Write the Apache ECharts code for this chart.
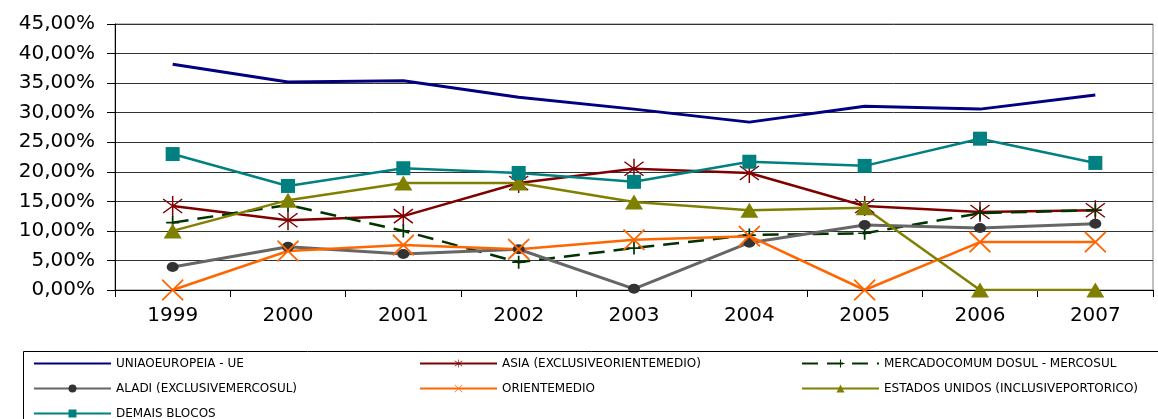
<!DOCTYPE html>
<html>
<head>
<meta charset="utf-8">
<script src="https://cdn.jsdelivr.net/npm/echarts@6/dist/echarts.min.js"></script>
<style>
html, body { margin: 0; padding: 0; background: #fff; }
#chart { width: 1158px; height: 419px; }
</style>
</head>
<body>
<div id="chart"></div>
<script>
// anos
var years = ['1999', '2000', '2001', '2002', '2003', '2004', '2005', '2006', '2007'];
// participação (%) por bloco
var ue = [38.2, 35.2, 35.4, 32.6, 30.6, 28.4, 31.1, 30.6, 33.0];
var asia = [14.2, 11.8, 12.5, 18.1, 20.5, 19.8, 14.2, 13.2, 13.5];
var mercosul = [11.4, 14.4, 10.0, 4.7, 7.1, 9.3, 9.6, 13.0, 13.5];
var aladi = [3.9, 7.3, 6.1, 6.9, 0.2, 8.0, 11.0, 10.5, 11.2];
var oriente = [0, 6.6, 7.6, 6.9, 8.5, 9.1, 0, 8.1, 8.1];
var eua = [10.0, 15.2, 18.1, 18.1, 14.9, 13.5, 13.9, 0, 0];
var demais = [23.0, 17.6, 20.6, 19.8, 18.3, 21.7, 21.0, 25.6, 21.5];

var names = [
	'UNIAOEUROPEIA - UE',
	'ASIA (EXCLUSIVEORIENTEMEDIO)',
	'MERCADOCOMUM DOSUL - MERCOSUL',
	'ALADI (EXCLUSIVEMERCOSUL)',
	'ORIENTEMEDIO',
	'ESTADOS UNIDOS (INCLUSIVEPORTORICO)',
	'DEMAIS BLOCOS'
];

// marcadores
var asterisk = 'path://M9.3 0L10.7 0L10.7 20L9.3 20Z' +
	'M1.43 2.45L19.43 16.45L18.57 17.55L0.57 3.55Z' +
	'M0.57 16.45L18.57 2.45L19.43 3.55L1.43 17.55Z';
var cross = 'path://M1.43 2.45L19.43 16.45L18.57 17.55L0.57 3.55Z' +
	'M0.57 16.45L18.57 2.45L19.43 3.55L1.43 17.55Z';
var plus = 'path://M5.2 0H6.8V5.2H12V6.8H6.8V12H5.2V6.8H0V5.2H5.2Z';

var font = 'DejaVu Sans';

function serie(name, data, color, extra) {
	var s = {
		name: name,
		type: 'line',
		data: data,
		symbol: 'none',
		z: 3,
		lineStyle: { color: color, width: 2.5 },
		itemStyle: { color: color },
		emphasis: { disabled: true },
		animation: false
	};
	for (var k in extra) s[k] = extra[k];
	return s;
}

// cada coluna da legenda: horizontal estreita, um item por linha
var legendBase = {
	orient: 'horizontal',
	top: 356,
	padding: 0,
	itemWidth: 77,
	itemHeight: 10,
	itemGap: 10,
	selectedMode: false,
	textStyle: { fontFamily: font, fontSize: 12, color: '#000', lineHeight: 15 }
};
function legendCol(left, width, data) {
	var l = { left: left, width: width, data: data };
	for (var k in legendBase) l[k] = legendBase[k];
	return l;
}

var myChart = echarts.init(document.getElementById('chart'));

var option = {
	backgroundColor: '#fff',
	animation: false,
	grid: {
		left: 115, right: 5, top: 24, bottom: 129,
		show: true, borderColor: '#808080', borderWidth: 1
	},
	legend: [
		legendCol(33, 300, [{ name: names[0], itemStyle: { opacity: 0 } }, names[3], names[6]]),
		legendCol(419, 330, [names[1], names[4]]),
		legendCol(801, 360, [names[2], names[5]])
	],
	graphic: [{
		type: 'rect',
		shape: { x: 23.5, y: 351.5, width: 1200, height: 100 },
		style: { fill: 'none', stroke: '#000', lineWidth: 1 },
		silent: true
	}],
	xAxis: {
		type: 'category',
		data: years,
		boundaryGap: true,
		axisLine: { lineStyle: { color: '#000', width: 1 } },
		axisTick: { show: true, length: 7, lineStyle: { color: '#000' } },
		axisLabel: { fontFamily: font, fontSize: 20, color: '#000', margin: 16 }
	},
	yAxis: {
		type: 'value',
		min: 0,
		max: 45,
		interval: 5,
		axisLine: { show: true, lineStyle: { color: '#000', width: 1 } },
		axisTick: { show: true, inside: false, length: 8, lineStyle: { color: '#000' } },
		axisLabel: {
			fontFamily: font, fontSize: 20, color: '#000', margin: 20,
			formatter: function(v) { return v.toFixed(2).replace('.', ',') + '%'; }
		},
		splitLine: { lineStyle: { color: '#333', width: 1 } }
	},
	series: [
		serie(names[0], ue, '#000080', { lineStyle: { color: '#000080', width: 3 } }),
		serie(names[1], asia, '#800000', { symbol: asterisk, symbolSize: 20 }),
		serie(names[2], mercosul, '#003300', {
			symbol: plus, symbolSize: 13,
			lineStyle: { color: '#003300', width: 2.5, type: [16, 9] }
		}),
		serie(names[3], aladi, '#606060', {
			symbol: 'circle', symbolSize: [12, 10],
			itemStyle: { color: '#333333' },
			lineStyle: { color: '#666666', width: 3 }
		}),
		serie(names[4], oriente, '#FF6600', { symbol: cross, symbolSize: 22 }),
		serie(names[5], eua, '#808000', { symbol: 'triangle', symbolSize: [18, 15] }),
		serie(names[6], demais, '#008080', { symbol: 'rect', symbolSize: 14 })
	]
};

myChart.setOption(option);
</script>
</body>
</html>
